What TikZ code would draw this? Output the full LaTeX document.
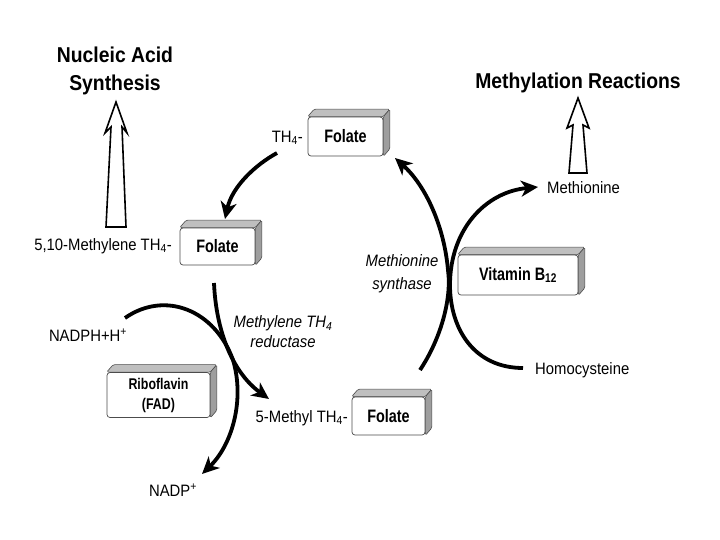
\documentclass[tikz,border=0pt]{standalone}
\usepackage{fontspec}
\setmainfont{Liberation Sans}[FakeStretch=0.9]
\newfontfamily\boxfont{Liberation Sans}[FakeStretch=0.8]
\usetikzlibrary{arrows.meta,backgrounds}
\tikzset{
  flow/.style={line width=3.8pt, -{Stealth[length=17pt,width=16pt,inset=5pt]}},
  hollow/.style={draw=black, fill=white, line width=1.6pt, line join=miter},
  fbox/.style={draw=black!70, line width=0.7pt, fill=white, rounded corners=3pt, inner sep=0pt, font=\boxfont\fontsize{18}{20}\selectfont\bfseries, align=center},
  face/.style={draw=black!70, line width=0.6pt, fill=black!25, rounded corners=1.5pt},
  rface/.style={face, fill=black!38},
  lbl/.style={inner sep=0pt, font=\fontsize{16.5}{20}\selectfont},
  ttl/.style={inner sep=0pt, font=\fontsize{21.5}{28}\selectfont\bfseries, align=center},
}
\newcommand{\extrude}[1]{%
  \begin{scope}[on background layer]
    \path[face] (#1.north west) -- ([shift={(6.5,-7.5)}]#1.north west) -- ([shift={(6.5,-7.5)}]#1.north east) -- (#1.north east) -- cycle;
    \path[rface] (#1.north east) -- ([shift={(6.5,-7.5)}]#1.north east) -- ([shift={(6.5,-7.5)}]#1.south east) -- (#1.south east) -- cycle;
  \end{scope}}
\begin{document}
\begin{tikzpicture}[x=1pt,y=-1pt]
\useasboundingbox (0,0) rectangle (720,540);
% titles
\node[ttl] (nas) at (115,71) {Nucleic Acid\\Synthesis};
\node[ttl] (mr) at (578,83) {Methylation Reactions};
% boxes
\node[fbox, minimum width=75pt, minimum height=39pt] (f1) at (345.5,136.5) {Folate};
\node[fbox, minimum width=75pt, minimum height=37pt] (f2) at (217.5,246.5) {Folate};
\node[fbox, minimum width=73pt, minimum height=38pt] (f3) at (388.5,416) {Folate};
\node[fbox, minimum width=120pt, minimum height=40pt] (vb) at (518,275) {Vitamin B\textsubscript{12}};
\node[fbox, minimum width=103pt, minimum height=45pt, font=\boxfont\fontsize{15.5}{20}\selectfont\bfseries] (rb) at (158.5,395) {Riboflavin\\(FAD)};
\extrude{f1}\extrude{f2}\extrude{f3}\extrude{vb}\extrude{rb}
% labels
\node[lbl, anchor=east] (th4) at (303,138) {TH\textsubscript{4}-};
\node[lbl, anchor=east] (mth) at (172,246) {5,10-Methylene TH\textsubscript{4}-};
\node[lbl, anchor=east] (m5) at (348,418) {5-Methyl TH\textsubscript{4}-};
\node[lbl, anchor=west] (met) at (547,188) {Methionine};
\node[lbl, anchor=west] (hcy) at (535,370) {Homocysteine};
\node[lbl] (nadph) at (88,335) {NADPH+H\textsuperscript{+}};
\node[lbl] (nadp) at (173,490) {NADP\textsuperscript{+}};
\node[lbl, align=center, font=\fontsize{16.5}{20}\selectfont\itshape] (mtr) at (283,332) {Methylene TH\textsubscript{4}\\reductase};
\node[lbl, align=center, font=\fontsize{16.5}{23}\selectfont\itshape] (ms) at (402,273.5) {Methionine\\synthase};
% hollow arrows
\coordinate (na0) at (116,227);
\begin{scope}[shift={(na0)}]
  \draw[hollow] (-10,0) -- (-5,-100) -- (-11,-94) -- (0,-125) -- (11,-94) -- (6,-100) -- (10,0) -- cycle;
\end{scope}
\coordinate (ma0) at (578,173);
\begin{scope}[shift={(ma0)}]
  \draw[hollow] (-9,0) -- (-5,-48) -- (-11,-45) -- (0,-75) -- (11,-45) -- (5,-48) -- (9,0) -- cycle;
\end{scope}
% curved arrows
\coordinate (c1s) at (277,153); \coordinate (c1e) at (225,219);
\draw[flow] (c1s) .. controls (255,165) and (232,187) .. (c1e);
\coordinate (c2s) at (214,283); \coordinate (c2e) at (269,399);
\draw[flow] (c2s) .. controls (216,330) and (232,372) .. (c2e);
\coordinate (c3s) at (125,318); \coordinate (c3m) at (233,360); \coordinate (c3e) at (202,474);
\draw[flow] (c3s) .. controls (165,290) and (215,310) .. (c3m) .. controls (245,400) and (232,445) .. (c3e);
\coordinate (c4s) at (420,370); \coordinate (c4m) at (448,270); \coordinate (c4e) at (395,158);
\draw[flow] (c4s) .. controls (440,340) and (452,300) .. (c4m) .. controls (444,225) and (425,185) .. (c4e);
\coordinate (c5s) at (523,368); \coordinate (c5m) at (450,285); \coordinate (c5e) at (538,187);
\draw[flow] (c5s) .. controls (475,368) and (450,330) .. (c5m) .. controls (450,230) and (485,192) .. (c5e);
\end{tikzpicture}
\end{document}
